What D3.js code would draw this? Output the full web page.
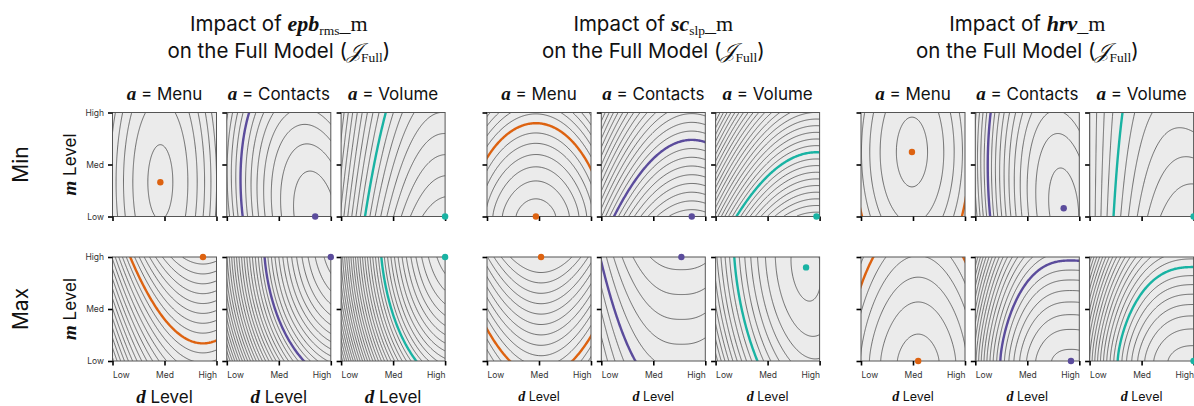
<!DOCTYPE html>
<html><head><meta charset="utf-8">
<script src="https://cdn.jsdelivr.net/npm/d3@7"></script>
<style>
body{margin:0;background:#fff;}
svg{display:block;font-family:Inter,"DejaVu Sans",sans-serif;}
</style></head><body>
<svg id="chart" width="1194" height="406"></svg>
<script>
// categories
var apps = ["Menu", "Contacts", "Volume"];
var rowNames = ["Min", "Max"];
var levelTicks = ["Low", "Med", "High"];
var appColors = ["#dd6210", "#5b4c9c", "#19b3a3"];

var varNames = ["epb", "sc", "hrv"];
var varSubs = ["rms", "slp", ""];

// response surfaces, one per panel (Menu, Contacts, Volume)
// f = -(A|d-d0|^p + B|m-m0|^q + C(d-d0)(m-m0)), levels start `off` below the max every `step`,
// hl = depth of the coloured contour below the max
var epbMin = [
  {d0: 0.46, m0: 0.33, A: 9, B: 1, off: 0.13, step: 0.5, hl: null},
  {d0: 0.85, m0: 0, A: 4.4, B: 1, C: 1, off: 0.18, step: 0.28, hl: 2.14},
  {d0: 1.05, m0: 0, A: 1, B: 0.377, C: 0.144, q: 1, off: 0.07, step: 0.075, hl: 0.67}
];
var epbMax = [
  {d0: 0.87, m0: 1, A: 1, B: 0.59, q: 1, off: 0.04, step: 0.056, hl: 0.49},
  {d0: 1.2, m0: 1.2, A: 1, B: 0.35, off: 0.03, step: 0.0525, hl: 0.66},
  {d0: 1.15, m0: 1.3, A: 1, B: 0.25, off: 0.03, step: 0.0442, hl: 0.56}
];
var scMin = [
  {d0: 0.47, m0: 0, A: 1.93, B: 1, q: 1.5, off: 0.07, step: 0.13, hl: 0.85},
  {d0: 0.87, m0: 0, A: 1, B: 0.76, q: 1, off: 0.05, step: 0.0638, hl: 0.56},
  {d0: 0.97, m0: 0, A: 1, B: 0.96, q: 1, off: 0.04, step: 0.0614, hl: 0.593}
];
var scMax = [
  {d0: 0.52, m0: 1, A: 1, B: 0.59, q: 1, off: 0.088, step: 0.059, hl: 0.68},
  {d0: 0.77, m0: 1, A: 1, B: 0.41, p: 2.5, q: 1, off: 0.05, step: 0.098, hl: 0.54},
  {d0: 0.87, m0: 0.9, A: 1, B: 0.2, C: 0.2, off: 0.02, step: 0.0636, hl: 0.465}
];
var hrvMin = [
  {d0: 0.49, m0: 0.62, A: 1, B: 0.2, off: 0.0225, step: 0.0711, hl: 0.307},
  {d0: 0.85, m0: 0.08, A: 1, B: 0.14, C: 0.157, off: 0.02, step: 0.049, hl: 0.51},
  {d0: 1.05, m0: 0, A: 1, B: 0.45, C: 0.43, q: 1, off: 0.134, step: 0.107, hl: 0.67}
];
var hrvMax = [
  {d0: 0.55, m0: 0, A: 1, B: 0.304, q: 1.5, off: 0.04, step: 0.09, hl: 0.49},
  {d0: 0.92, m0: 0, A: 1, B: 0.4, p: 2.5, q: 1.5, off: 0.015, step: 0.052, hl: 0.38},
  {d0: 1.0, m0: 0, A: 1, B: 0.53, p: 2.5, q: 1.5, off: 0.03, step: 0.0607, hl: 0.455}
];

var surfaces = [[epbMin, epbMax], [scMin, scMax], [hrvMin, hrvMax]];

// layout
var panelSize = 104, colStep = 114.3;
var groupLeft = [112.5, 487, 861];
var rowTop = [112.5, 257];
var serif = "'Liberation Serif','DejaVu Serif',serif";

var svg = d3.select("#chart");
var defs = svg.append("defs");

function surf(s, d, m) {
    var p = s.p || 2, q = s.q || 2, C = s.C || 0;
    var dd = d - s.d0, dm = m - s.m0;
    return -(s.A * Math.pow(Math.abs(dd), p) + s.B * Math.pow(Math.abs(dm), q) + C * dd * dm);
}

// grid for the contours reaches a little past the frame so the edges get clipped away
var N = 121, lo = -0.06, hi = 1.06;
var gridScale = d3.scaleLinear().domain([0.5, N - 0.5]).range([lo, hi]);

var clipId = 0;
function drawPanel(g, s, color, left, top, yLabels, xLabels) {
    var x = d3.scaleLinear().domain([0, 1]).range([left, left + panelSize]);
    var y = d3.scaleLinear().domain([0, 1]).range([top + panelSize, top]);

    var values = new Array(N * N);
    for (var j = 0; j < N; j++)
        for (var i = 0; i < N; i++)
            values[j * N + i] = surf(s, lo + i * (hi - lo) / (N - 1), lo + j * (hi - lo) / (N - 1));

    // max inside the domain -> dot
    var best = -Infinity, bd = 0, bm = 0;
    for (var a = 0; a <= 200; a++)
        for (var b = 0; b <= 200; b++) {
            var v = surf(s, a / 200, b / 200);
            if (v > best) { best = v; bd = a / 200; bm = b / 200; }
        }
    var fmin = d3.min(values);
    var levels = [];
    for (var t = best - s.off; t > fmin; t -= s.step) {
        // the coloured line takes the place of the grey one
        if (s.hl !== null && Math.abs(best - t - s.hl) < 0.3 * s.step) continue;
        levels.push(t);
    }

    var proj = d3.geoTransform({point: function(px, py) {
        this.stream.point(x(gridScale(px)), y(gridScale(py)));
    }});
    var path = d3.geoPath(proj);

    var id = "clip" + (clipId++);
    defs.append("clipPath").attr("id", id).append("rect")
        .attr("x", left).attr("y", top).attr("width", panelSize).attr("height", panelSize);

    g.append("rect").attr("x", left).attr("y", top)
        .attr("width", panelSize).attr("height", panelSize).attr("fill", "#ebebeb");

    var inner = g.append("g").attr("clip-path", "url(#" + id + ")");
    inner.selectAll("path.iso")
        .data(d3.contours().size([N, N]).thresholds(levels)(values))
        .enter().append("path")
        .attr("class", "iso")
        .attr("d", path)
        .attr("fill", "none")
        .attr("stroke", "#333")
        .attr("stroke-opacity", 0.85)
        .attr("stroke-width", 0.8);

    if (s.hl !== null) {
        inner.append("path")
            .datum(d3.contours().size([N, N]).contour(values, best - s.hl))
            .attr("d", path)
            .attr("fill", "none")
            .attr("stroke", color)
            .attr("stroke-width", 2.4);
    }

    g.append("rect").attr("x", left).attr("y", top)
        .attr("width", panelSize).attr("height", panelSize)
        .attr("fill", "none").attr("stroke", "#555").attr("stroke-width", 1);

    var xAxis = d3.axisBottom(x).tickValues([0, 0.5, 1]).tickSize(4.5).tickPadding(6)
        .tickFormat(function(d, i) { return xLabels ? levelTicks[i] : ""; });
    var gx = g.append("g").attr("transform", "translate(0," + (top + panelSize) + ")").call(xAxis);
    var yAxis = d3.axisLeft(y).tickValues([0, 0.5, 1]).tickSize(4.5).tickPadding(4)
        .tickFormat(function(d, i) { return yLabels ? levelTicks[i] : ""; });
    var gy = g.append("g").attr("transform", "translate(" + left + ",0)").call(yAxis);
    [gx, gy].forEach(function(ax) {
        ax.select(".domain").remove();
        ax.selectAll(".tick line").attr("stroke", "#000").attr("stroke-width", 1.6);
        ax.selectAll(".tick text").attr("font-family", "Inter,sans-serif")
            .attr("font-size", 8.5).attr("fill", "#333");
    });
    gx.selectAll(".tick text").attr("text-anchor", function(d, i) {
        return ["start", "middle", "end"][i];
    });

    g.append("circle").attr("cx", x(bd)).attr("cy", y(bm)).attr("r", 3.2).attr("fill", color);
}

surfaces.forEach(function(rows, gi) {
    var g = svg.append("g");
    var left0 = groupLeft[gi];
    var cx = left0 + (2 * colStep + panelSize) / 2;

    // block title
    var t1 = g.append("text").attr("x", cx).attr("y", 31).attr("text-anchor", "middle")
        .attr("font-size", 20.5).attr("fill", "#111");
    t1.append("tspan").text("Impact of ");
    t1.append("tspan").attr("font-family", serif).attr("font-weight", "bold")
        .attr("font-style", "italic").attr("font-size", 22).text(varNames[gi]);
    if (varSubs[gi]) {
        t1.append("tspan").attr("font-family", serif).attr("font-size", 13.5).attr("dy", 4).text(varSubs[gi]);
        t1.append("tspan").attr("font-family", serif).attr("font-size", 22).attr("dy", -4).text("_m");
    } else {
        t1.append("tspan").attr("font-family", serif).attr("font-size", 22).text("_m");
    }
    var t2 = g.append("text").attr("x", cx).attr("y", 58).attr("text-anchor", "middle")
        .attr("font-size", 20.5).attr("fill", "#111");
    t2.append("tspan").text("on the Full Model (");
    t2.append("tspan").attr("font-family", serif).attr("font-style", "italic").attr("font-size", 21).text("\uD835\uDCA5");
    t2.append("tspan").attr("font-family", serif).attr("font-size", 13.5).attr("dy", 4).text("Full");
    t2.append("tspan").attr("dy", -4).text(")");

    apps.forEach(function(app, ci) {
        var left = left0 + ci * colStep;
        var ct = g.append("text").attr("x", left + panelSize / 2).attr("y", 100)
            .attr("text-anchor", "middle").attr("font-size", 17).attr("fill", "#111");
        ct.append("tspan").attr("font-family", serif).attr("font-weight", "bold")
            .attr("font-style", "italic").attr("font-size", 19).text("a");
        ct.append("tspan").text(" = " + app);

        rows.forEach(function(row, ri) {
            drawPanel(g, row[ci], appColors[ci], left, rowTop[ri], gi === 0 && ci === 0, ri === 1);
        });

        // d Level under each column
        var big = gi === 0;
        var xl = g.append("text").attr("x", left + panelSize / 2).attr("y", big ? 403 : 401)
            .attr("text-anchor", "middle").attr("font-size", big ? 17 : 12.5).attr("fill", "#111");
        xl.append("tspan").attr("font-family", serif).attr("font-weight", "bold")
            .attr("font-style", "italic").attr("font-size", big ? 19 : 14).text("d");
        xl.append("tspan").text(" Level");
    });
});

// row labels and m Level
rowNames.forEach(function(name, ri) {
    var cy = rowTop[ri] + panelSize / 2;
    svg.append("text").attr("transform", "translate(28," + cy + ") rotate(-90)")
        .attr("text-anchor", "middle").attr("font-size", 21).attr("fill", "#111").text(name);
    var ml = svg.append("text").attr("transform", "translate(76," + cy + ") rotate(-90)")
        .attr("text-anchor", "middle").attr("font-size", 17).attr("fill", "#111");
    ml.append("tspan").attr("font-family", serif).attr("font-weight", "bold")
        .attr("font-style", "italic").attr("font-size", 19).text("m");
    ml.append("tspan").text(" Level");
});
</script>
</body></html>
